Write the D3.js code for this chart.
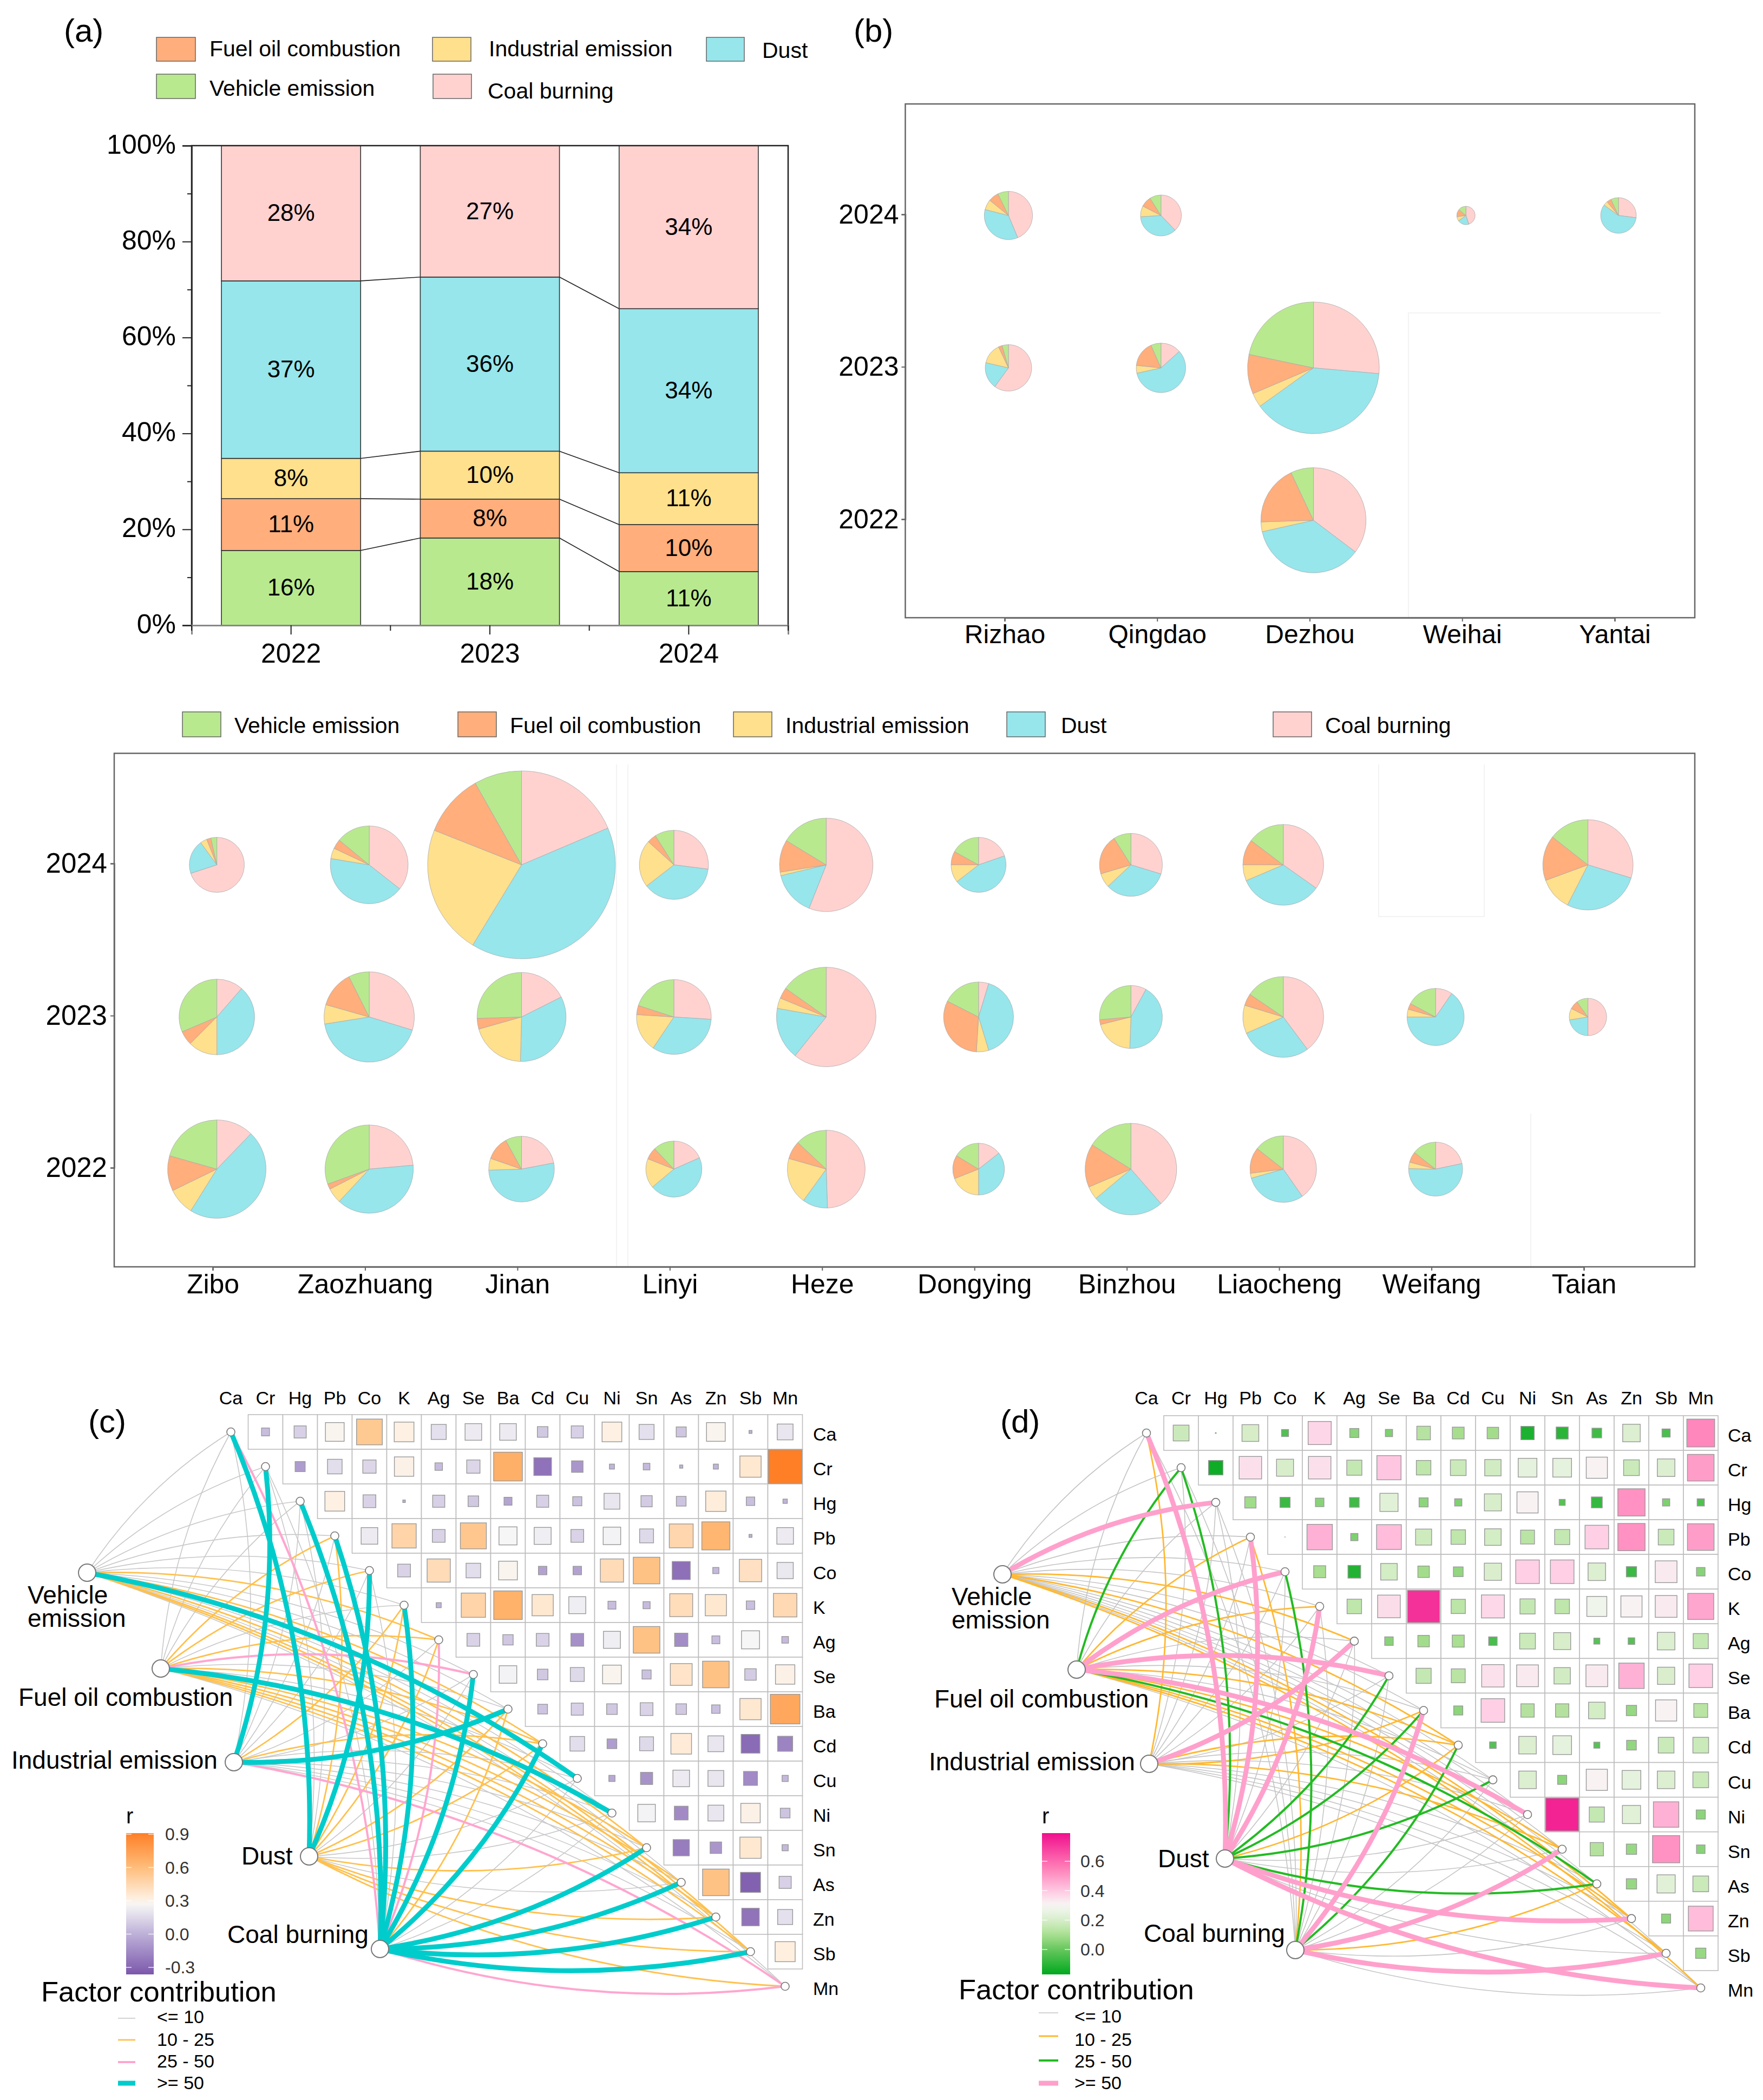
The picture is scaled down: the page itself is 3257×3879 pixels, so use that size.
<!DOCTYPE html>
<html><head><meta charset="utf-8">
<script src="https://d3js.org/d3.v7.min.js"></script>
<style>
html,body{margin:0;padding:0;background:#fff}
svg{display:block}
text{font-family:"Liberation Sans",Arial,sans-serif;fill:#000}
</style></head><body><svg id="c" width="3257" height="3879" viewBox="0 0 3257 3879"></svg>
<script>
// ---------- data ----------
const sources=["Vehicle emission","Fuel oil combustion","Industrial emission","Dust","Coal burning"];
const sourceColors=["#B9E98F","#FFAE7C","#FFE08C","#96E6EC","#FFD2D0"];
const years=["2022","2023","2024"];
const shareVehicle=[15.6,18.2,11.2];
const shareFuel=[10.8,8.1,9.8];
const shareIndustrial=[8.4,10,10.8];
const shareDust=[37,36.3,34.2];
const shareCoal=[28.2,27.4,34];
const yTicksPct=[0,20,40,60,80,100];

const citiesB=["Rizhao","Qingdao","Dezhou","Weihai","Yantai"];
const citiesBottom=["Zibo","Zaozhuang","Jinan","Linyi","Heze","Dongying","Binzhou","Liaocheng","Weifang","Taian"];
// city, year, total, [vehicle, fuel, industrial, dust, coal]
const piesB=[
["Rizhao","2024",20,[7.2,6.9,6.9,35.2,43.6]],
["Qingdao","2024",14.4,[9,8.4,8.6,36.2,37.8]],
["Weihai","2024",2.9,[14,13,8,20,45]],
["Yantai","2024",10.9,[7,4,4,58,27]],
["Rizhao","2023",18.5,[4.4,2.6,14.4,18.6,60]],
["Qingdao","2023",21,[6.6,16.8,5.1,58.1,13.4]],
["Dezhou","2023",149,[21.7,9.7,3.5,38.7,26.4]],
["Dezhou","2022",95,[7,18.5,3,36.2,35.3]]];
const piesBottom=[
["Zibo","2024",26,[3.5,2.5,4,20,70]],
["Zaozhuang","2024",52,[14,4,4.4,42,35.6]],
["Jinan","2024",303,[8.2,10.8,22.3,40.1,18.6]],
["Linyi","2024",41,[9,4.3,22.2,37.5,27]],
["Heze","2024",75,[16.3,11.2,1.2,15.3,56]],
["Dongying","2024",26,[17,8,10.5,44.8,19.7]],
["Binzhou","2024",34,[9,20.6,7.4,33.3,29.7]],
["Liaocheng","2024",56,[14.7,10.3,6.4,33.8,34.8]],
["Taian","2024",70,[14.4,16.2,11.9,27.8,29.7]],
["Zibo","2023",49,[31.4,6.1,12.5,38.6,11.4]],
["Zaozhuang","2023",70,[7.4,13.2,6.9,42.8,29.7]],
["Jinan","2023",68,[25.5,3.9,20.2,32.8,17.6]],
["Linyi","2023",48,[20,4,16.6,33.4,26]],
["Heze","2023",85,[15.2,3.6,3.4,17,60.8]],
["Dongying","2023",42,[17.5,31.5,5.7,40.6,4.7]],
["Binzhou","2023",34,[26.5,2.5,20.7,42.8,8]],
["Liaocheng","2023",56,[15.5,4.8,11.3,28.6,39.8]],
["Weifang","2023",28,[17.2,3.4,4.4,65.4,9.6]],
["Taian","2023",12,[10,7.5,10,22.5,50]],
["Zibo","2022",83,[20.6,11.6,8.9,46.7,12.2]],
["Zaozhuang","2022",67,[30.5,2,5.6,38.3,23.6]],
["Jinan","2022",37,[8,11.7,5.8,52.5,22]],
["Linyi","2022",27,[12,7,17.1,45.5,18.4]],
["Heze","2022",52,[13,7.6,19.4,10.5,49.5]],
["Dongying","2022",23,[16.3,14.7,19,35.6,14.4]],
["Binzhou","2022",72,[16.1,15.3,4.7,25.3,38.6]],
["Liaocheng","2022",38,[14.4,12.6,2.4,30.3,40.3]],
["Weifang","2022",25,[14.4,6.4,3.9,53.6,21.7]]];

const elements=["Ca","Cr","Hg","Pb","Co","K","Ag","Se","Ba","Cd","Cu","Ni","Sn","As","Zn","Sb","Mn"];
// upper triangle of the correlation matrices, row by row
const rC=[
[.05,.117,.28,.53,.31,.18,.22,.22,.09,.117,.31,.18,.08,.28,.007,.2],
[-.08,.17,.14,.3,.045,.14,.66,-.25,-.105,.02,.035,.008,.02,.36,.9],
[.31,.13,.005,.117,.09,-.05,.117,.066,.2,.1,.075,.33,.057,.015],
[.22,.47,.13,.54,.26,.23,.13,.245,.155,.455,.63,.007,.22],
[.13,.43,.17,.28,-.057,-.057,.43,.565,-.26,.03,.4,.21],
[.02,.47,.65,.36,.23,.05,.04,.42,.36,.057,.44],
[.13,.085,.13,-.13,.23,.565,-.14,.05,.26,.035],
[.245,.09,.155,.28,.066,.38,.565,.105,.3],
[.075,.117,.09,.13,.09,.057,.36,.7],
[.17,-.075,.155,.34,.2,-.28,-.18],
[-.03,-.117,.22,.2,-.155,.03],
[.245,-.15,.2,.3,.075],
[-.21,-.105,.36,.03],
[.565,-.32,.117],
[-.245,.18],
[.32]];
const rD=[
[.173,.001,.195,-.034,.37,.057,.036,.128,.096,.091,-.123,-.1,-.065,.213,-.046,.536],
[-.145,.35,.2,.35,.158,.405,.146,.171,.185,.243,.243,.31,.171,.213,.49],
[.088,-.071,.05,-.065,.228,.057,.036,.2,.31,-.025,-.082,.513,.036,-.036],
[.0003,.447,.036,.426,.178,.146,.19,.134,.158,.385,.513,.171,.49],
[.1,-.112,.19,.091,.065,.205,.385,.385,.213,-.073,.328,.05],
[.146,.356,.72,.14,.366,.158,.146,.276,.31,.328,.47],
[.05,.091,.1,-.05,.171,.2,-.025,-.03,.213,.158],
[.158,.134,.347,.328,.185,.328,.447,.205,.385],
[.057,.385,.123,.123,.19,.073,.31,.134],
[-.03,.213,.243,-.025,.065,.171,.171],
[.213,.057,.31,.243,.213,.171],
[.75,.158,.228,.447,.057],
[.123,.073,.513,.05],
[.073,.228,.171],
[.057,.426],
[.073]];
// link class per factor (rows) and element (columns): 0 <=10, 1 10-25, 2 25-50, 3 >=50
const linksC=[
[0,0,0,0,0,0,1,0,0,1,3,0,1,0,1,1,0],
[0,0,0,1,1,0,1,2,0,1,0,3,1,1,1,1,0],
[0,3,0,0,0,1,0,0,3,1,0,0,0,0,0,0,2],
[3,0,0,1,3,1,1,0,1,1,0,0,1,0,1,1,1],
[2,0,3,3,0,3,2,3,1,3,0,0,3,3,3,3,2]];
const linksD=[
[0,0,3,0,0,0,1,0,0,1,0,0,0,0,1,0,1],
[0,2,0,1,3,1,0,3,0,1,0,3,1,2,1,1,0],
[1,0,0,0,0,0,3,0,1,1,0,0,1,0,0,0,0],
[3,2,0,3,0,3,0,2,2,1,2,0,0,2,3,0,3],
[0,0,0,1,2,0,0,0,3,2,0,0,3,1,0,3,0]];
const linkLabels=["<= 10","10 - 25","25 - 50",">= 50"];
const linkColorsC=["#C8C8C8","#FFC04D","#FFA6CF","#00CCCC"];
const linkColorsD=["#C4C4C4","#FFB833","#22BB22","#FFA0CC"];
const linkWidths=[1.6,2.8,4,9];
const legendTicksC=[.9,.6,.3,0,-.3];
const legendTicksD=[.6,.4,.2,0];

// ---------- helpers ----------
const svg=d3.select("#c");
const txt=(g,x,y,s,size,anchor)=>g.append("text").attr("x",x).attr("y",y).attr("dy","0.35em")
  .attr("font-size",size).attr("text-anchor",anchor||"start").text(s);
function swatches(items){
  items.forEach(it=>{
    svg.append("rect").attr("x",it[1]).attr("y",it[2]).attr("width",it[3]).attr("height",it[4])
      .attr("fill",sourceColors[it[0]]).attr("stroke","#666").attr("stroke-width",1.5);
    txt(svg,it[5],it[6],sources[it[0]],it[7]);
  });
}
function styleAxis(g,size,color,w){
  g.selectAll("path").attr("stroke",color).attr("stroke-width",w);
  g.selectAll("line").attr("stroke",color).attr("stroke-width",2);
  g.selectAll("text").attr("font-size",size)
   .style("font-family","'Liberation Sans',Arial,sans-serif");
}

// ---------- panel a ----------
txt(svg,118,56,"(a)",60);
swatches([[1,289,69,72,44,387,90,41],[2,799,69,71,44,903,90,41],[3,1305,69,70,44,1408,93,41],
          [0,289,137,72,45,387,163,41],[4,800,137,71,45,901,168,41]]);
const xA=d3.scaleBand().domain(years).range([354,1456]);
const yA=d3.scaleLinear().domain([0,100]).range([1155,269]);
const barW=xA.bandwidth()*0.7;
const barX=d=>xA(d)+(xA.bandwidth()-barW)/2;
const rowsA=years.map((y,i)=>({year:y,0:shareVehicle[i],1:shareFuel[i],2:shareIndustrial[i],3:shareDust[i],4:shareCoal[i]}));
const stacked=d3.stack().keys([0,1,2,3,4])(rowsA);
stacked.forEach((s,k)=>{
  svg.append("g").selectAll("rect").data(s).join("rect")
    .attr("x",d=>barX(d.data.year)).attr("width",barW)
    .attr("y",d=>yA(d[1])).attr("height",d=>yA(d[0])-yA(d[1]))
    .attr("fill",sourceColors[k]).attr("stroke","#333").attr("stroke-width",1.6);
  svg.append("g").selectAll("text").data(s).join("text")
    .attr("x",d=>xA(d.data.year)+xA.bandwidth()/2).attr("y",d=>yA((d[0]+d[1])/2)-1).attr("dy","0.35em")
    .attr("text-anchor","middle").attr("font-size",44)
    .text(d=>d3.format(".0f")(d[1]-d[0])+"%");
  if(k<4) for(let i=0;i<2;i++){
    svg.append("line").attr("x1",barX(years[i])+barW).attr("x2",barX(years[i+1]))
      .attr("y1",yA(s[i][1])).attr("y2",yA(s[i+1][1])).attr("stroke","#222").attr("stroke-width",1.6);
  }
});
svg.append("path").attr("d",`M${xA.range()[0]},${yA(0)}V${yA(100)}H${xA.range()[1]}V${yA(0)}`)
  .attr("fill","none").attr("stroke","#222").attr("stroke-width",2.5);
const axL=svg.append("g").attr("transform",`translate(354,0)`)
  .call(d3.axisLeft(yA).tickValues(yTicksPct).tickFormat(d=>d+"%").tickSize(17).tickPadding(12));
styleAxis(axL,50,"#222",2.5);
axL.selectAll("text").attr("dy","0.28em");
svg.append("g").attr("transform",`translate(354,0)`)
  .call(d3.axisLeft(yA).tickValues([10,30,50,70,90]).tickFormat("").tickSize(8))
  .call(g=>{g.select("path").remove();g.selectAll("line").attr("stroke","#222").attr("stroke-width",2);g.selectAll("text").remove();});
const axB=svg.append("g").attr("transform",`translate(0,1155)`)
  .call(d3.axisBottom(xA).tickSize(17).tickPadding(16));
styleAxis(axB,50,"#888",3);
axB.selectAll("line").attr("stroke","#222");
svg.append("g").selectAll("line").data(d3.range(4)).join("line")
  .attr("x1",i=>354+i*xA.bandwidth()).attr("x2",i=>354+i*xA.bandwidth())
  .attr("y1",1155).attr("y2",1165).attr("stroke","#222").attr("stroke-width",2);

// ---------- pies ----------
const sizeScale=d3.scaleSqrt().domain([0,303]).range([0,173.5]);
const pieGen=d3.pie().sort(null).value(d=>d.v);
const arcGen=d3.arc().innerRadius(0);
function pies(rows,x,y,dx,dy){
  rows.forEach(r=>{
    const g=svg.append("g").attr("transform",`translate(${x(r[0])+dx},${y(r[1])+dy})`);
    const parts=[4,3,2,1,0].map(k=>({k,v:r[3][k]}));
    g.selectAll("path").data(pieGen(parts)).join("path")
      .attr("d",d=>arcGen.outerRadius(sizeScale(r[2]))(d))
      .attr("fill",d=>sourceColors[d.data.k]).attr("stroke","#AAA").attr("stroke-width",.8);
  });
}
function framedPanel(x0,x1,y0,y1,x,y,fx,fy,padX,padY){
  svg.append("rect").attr("x",x0).attr("y",y0).attr("width",x1-x0).attr("height",y1-y0)
    .attr("fill","none").attr("stroke","#666").attr("stroke-width",2.5);
  const a=svg.append("g").attr("transform",`translate(0,${y1})`)
    .call(d3.axisBottom(x).tickSize(7).tickPadding(padX));
  styleAxis(a,fx,"#666",2.5);
  const b=svg.append("g").attr("transform",`translate(${x0},0)`)
    .call(d3.axisLeft(y).tickSize(7).tickPadding(padY));
  styleAxis(b,fy,"#666",2.5);
}
function faint(d){svg.append("path").attr("d",d).attr("fill","none").attr("stroke","#F3F3F3").attr("stroke-width",2);}
// panel b
txt(svg,1577,56,"(b)",60);
const xB=d3.scalePoint().domain(citiesB).range([1856,2983]);
const yB=d3.scalePoint().domain(["2024","2023","2022"]).range([396,959]);
faint("M3068,578H2602V1141");
framedPanel(1672.5,3131,192,1141,xB,yB,48,50,6,5);
pies(piesB,xB,yB,7,2);
// bottom bubble pies
swatches([[0,337,1315,71,46,433,1340,41],[1,846,1315,71,46,942,1340,41],[2,1355,1315,71,46,1451,1340,41],
          [3,1860,1315,71,46,1960,1340,41],[4,2352,1315,71,46,2448,1340,41]]);
const xP=d3.scalePoint().domain(citiesBottom).range([393,2926]);
const yP=d3.scalePoint().domain(["2024","2023","2022"]).range([1595,2157]);
faint("M1139,1412V2340M1160,1412V2340M2547,1412V1693H2742V1412M2828,2057V2340");
framedPanel(211,3131,1391.5,2340,xP,yP,50,51,6,6);
pies(piesBottom,xP,yP,7.6,2.5);

// ---------- panels c, d ----------
function network(o){
  const x=d3.scalePoint().domain(elements).range(o.xr), y=d3.scalePoint().domain(elements).range(o.yr);
  const step=x.step(), sy=y.step();
  const g=svg.append("g");
  const side=d3.scaleSqrt().domain([0,o.rMax]).range([0,step-2]);
  o.r.forEach((row,i)=>row.forEach((v,n)=>{
    const j=i+1+n, cx=x(elements[j]), cy=y(elements[i]);
    g.append("rect").attr("x",cx-step/2).attr("y",cy-sy/2).attr("width",step).attr("height",sy)
      .attr("fill","#fff").attr("stroke","#BDBDBD").attr("stroke-width",1.6);
  }));
  o.r.forEach((row,i)=>row.forEach((v,n)=>{
    const j=i+1+n, cx=x(elements[j]), cy=y(elements[i]), s=side(Math.abs(v));
    g.append("rect").attr("x",cx-s/2).attr("y",cy-s/2).attr("width",s).attr("height",s)
      .attr("fill",o.color(v)).attr("stroke","#999").attr("stroke-width",s>3?1.4:.5);
  }));
  elements.forEach((e,i)=>{
    txt(g,x(e),o.colLabelY,e,34,"middle");
    txt(g,o.rowLabelX,y(e)+4,e,34);
  });
  // links, thin ones first
  const curve=(f,e)=>{
    const fp=o.factors[f], ex=x(elements[e]), ey=y(elements[e]);
    const sign=f<2?-1:f>2?1:(e<=8?1:-1);
    const dx=ex-fp[0], dy=ey-fp[1], k=0.11*sign;
    const p=d3.path(); p.moveTo(fp[0],fp[1]);
    p.quadraticCurveTo((fp[0]+ex)/2-dy*k,(fp[1]+ey)/2+dx*k,ex,ey);
    return p.toString();
  };
  [0,1,2,3].forEach(t=>{
    o.links.forEach((row,f)=>row.forEach((c,e)=>{
      if(c===t) g.append("path").attr("d",curve(f,e)).attr("fill","none")
        .attr("stroke",o.linkColors[t]).attr("stroke-width",linkWidths[t]);
    }));
  });
  elements.forEach(e=>g.append("circle").attr("cx",x(e)).attr("cy",y(e)).attr("r",7.5)
    .attr("fill","#fff").attr("stroke","#777").attr("stroke-width",1.6));
  o.factors.forEach(p=>g.append("circle").attr("cx",p[0]).attr("cy",p[1]).attr("r",16)
    .attr("fill","#fff").attr("stroke","#777").attr("stroke-width",2));
  o.factorLabels.forEach(l=>{
    const t=g.append("text").attr("font-size",46);
    l[0].split("\n").forEach((s,i)=>t.append("tspan").attr("x",l[1]).attr("y",l[2]+i*42.5).attr("dy","0.35em").text(s));
  });
  txt(g,o.tag[0],o.tag[1],o.tag[2],60);
  // colour bar
  txt(g,o.bar.x,o.bar.titleY,"r",40);
  const id="grad"+o.tag[2][1], dom=o.color.domain();
  const lg=svg.append("defs").append("linearGradient").attr("id",id).attr("x1",0).attr("x2",0).attr("y1",1).attr("y2",0);
  const lo=dom[0], hi=dom[dom.length-1];
  d3.range(0,1.001,.05).forEach(t=>lg.append("stop").attr("offset",t).attr("stop-color",o.color(lo+t*(hi-lo))));
  g.append("rect").attr("x",o.bar.x).attr("y",o.bar.y0).attr("width",o.bar.w).attr("height",o.bar.y1-o.bar.y0).attr("fill",`url(#${id})`);
  o.bar.ticks.forEach(t=>{
    const yy=o.bar.tickY(t);
    [[0,10],[o.bar.w-10,o.bar.w]].forEach(s=>g.append("line").attr("x1",o.bar.x+s[0]).attr("x2",o.bar.x+s[1])
      .attr("y1",yy).attr("y2",yy).attr("stroke","#fff").attr("stroke-width",1.5).attr("stroke-opacity",.8));
    txt(g,o.bar.labelX,yy,d3.format(".1f")(t).replace("\u2212","-"),32).style("fill","#333");
  });
  // contribution legend
  txt(g,o.leg.titleX,o.leg.titleY,"Factor contribution",52.5);
  linkLabels.forEach((s,i)=>{
    g.append("line").attr("x1",o.leg.x0).attr("x2",o.leg.x1).attr("y1",o.leg.ys[i]).attr("y2",o.leg.ys[i])
      .attr("stroke",o.linkColors[i]).attr("stroke-width",linkWidths[i]);
    txt(g,o.leg.textX,o.leg.textYs[i],s,34);
  });
}
const colorC=d3.scaleLinear().domain([-.36,0,.26,.32,.6,.9]).range(["#7B57AB","#BDB0D8","#F6F6F6","#FFEFDF","#FFBC78","#FF7F27"]);
const colorD=d3.scaleLinear().domain([-.17,0,.1,.2,.3,.4,.55,.79]).range(["#00A81E","#66C75E","#A9DF90","#D8EECB","#F7F7F5","#FFC8E2","#FF80B8","#F0108C"]);
const tickCY=d3.scaleLinear().domain([-.3,.9]).range([3634,3388]);
const tickDY=d3.scaleLinear().domain([0,.6]).range([3601,3438]);
network({xr:[426.5,1450.5],yr:[2645,3669],colLabelY:2582,rowLabelX:1502,r:rC,rMax:.9,color:colorC,links:linksC,linkColors:linkColorsC,
  factors:[[161,2905],[297,3082],[432,3255],[571,3429],[702,3600]],
  factorLabels:[["Vehicle\nemission",51,2946],["Fuel oil combustion",34,3135],["Industrial emission",21,3251],["Dust",446,3428],["Coal burning",420,3573]],
  tag:[163,2625,"(c)"],
  bar:{x:233,w:51,y0:3386,y1:3647,titleY:3354,labelX:305,ticks:legendTicksC,tickY:tickCY},
  leg:{titleX:76,titleY:3679,x0:218,x1:250,textX:290,ys:[3728,3768,3809,3848],textYs:[3725,3767,3807,3847]}});
network({xr:[2118,3142],yr:[2647,3672],colLabelY:2582,rowLabelX:3192,r:rD,rMax:.78,color:colorD,links:linksD,linkColors:linkColorsD,
  factors:[[1852,2908],[1989,3084],[2123,3258],[2263,3433],[2393,3602]],
  factorLabels:[["Vehicle\nemission",1758,2949],["Fuel oil combustion",1726,3138],["Industrial emission",1716,3254],["Dust",2139,3433],["Coal burning",2113,3571]],
  tag:[1848,2625,"(d)"],
  bar:{x:1925,w:52,y0:3386,y1:3647,titleY:3354,labelX:1996,ticks:legendTicksD,tickY:tickDY},
  leg:{titleX:1771,titleY:3675,x0:1919,x1:1955,textX:1985,ys:[3718,3761,3806,3848],textYs:[3724,3767,3807,3847]}});
</script></body></html>
